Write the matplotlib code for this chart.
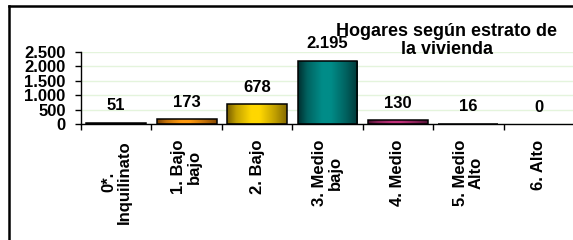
import matplotlib
matplotlib.use("Agg")
import matplotlib.pyplot as plt
import numpy as np
from matplotlib.lines import Line2D
from matplotlib.colors import to_rgb

categories = ["0*.\nInquilinato", "1. Bajo\nbajo", "2. Bajo", "3. Medio\nbajo",
              "4. Medio", "5. Medio\nAlto", "6. Alto"]
values = [51, 173, 678, 2195, 130, 16, 0]
bright_colors = ["#3a3a3a", "#FF9A10", "#FFD700", "#008C88", "#C0307A", "#3a3a3a", "#3a3a3a"]
dark_colors = ["#000000", "#7A4000", "#7A6000", "#003030", "#4A1030", "#000000", "#000000"]
yticks = [0, 500, 1000, 1500, 2000, 2500]
title = "Hogares según estrato de\nla vivienda"

def fmt(v):
    return f"{v:,}".replace(",", ".")

plt.rcParams['font.family'] = ['Liberation Sans', 'DejaVu Sans']
plt.rcParams['font.weight'] = 'bold'

W, H = 573, 240
fig = plt.figure(figsize=(W / 100, H / 100), dpi=100)
fig.patch.set_facecolor('white')

left_px, right_px, top_px, bottom_px = 81, 574, 52, 124
ax = fig.add_axes([left_px / W, 1 - bottom_px / H, (right_px - left_px) / W, (bottom_px - top_px) / H])

x = np.arange(len(categories))
bars = ax.bar(x, values, width=0.85, facecolor='none', edgecolor='black', linewidth=1.1, zorder=3)

# gradient fill for each bar
t = np.linspace(0, 1, 64)
prof = np.interp(t, [0, 0.15, 0.4, 0.55, 0.8, 1.0], [0.0, 0.55, 1.0, 1.0, 0.55, 0.1])
for rect, bc, dc in zip(bars, bright_colors, dark_colors):
    h = rect.get_height()
    if h <= 0:
        rect.set_edgecolor('none')
        continue
    b = np.array(to_rgb(bc)); d = np.array(to_rgb(dc))
    grad = d[None, :] * (1 - prof[:, None]) + b[None, :] * prof[:, None]
    img = ax.imshow(grad[None, :, :], extent=[rect.get_x(), rect.get_x() + rect.get_width(), 0, h],
                    aspect='auto', zorder=2, interpolation='bilinear')
    img.set_clip_path(rect)

for rect, v in zip(bars, values):
    ax.annotate(fmt(v), (rect.get_x() + rect.get_width() / 2, rect.get_height()),
                xytext=(0, 9), textcoords='offset points', ha='center', va='baseline',
                fontsize=12, fontweight='bold', zorder=5)

ax.set_xlim(-0.5, len(categories) - 0.5)
ax.set_ylim(0, 2500)
ax.set_yticks(yticks)
ax.set_yticklabels([fmt(v) for v in yticks], fontsize=12, fontweight='bold')
ax.yaxis.grid(True, color='#E4F4DC', linewidth=1, zorder=0)
ax.set_axisbelow(True)

ax.set_xticks(x)
ax.set_xticklabels(categories, rotation=90, ha='center', va='top', fontsize=12,
                   fontweight='bold', multialignment='center', linespacing=1.05)
ax.set_xticks(np.arange(-0.5, len(categories), 1.0), minor=True)
ax.tick_params(axis='x', which='major', length=0, pad=11.5)
ax.tick_params(axis='x', which='minor', length=4, width=1, direction='out')
ax.tick_params(axis='y', which='major', length=4, width=1, direction='out', pad=7)

for s in ['top', 'right']:
    ax.spines[s].set_visible(False)
ax.spines['left'].set_linewidth(1)
ax.spines['bottom'].set_linewidth(1)

fig.text(447 / W, 1 - 23 / H, title, ha='center', va='top', fontsize=13,
         fontweight='bold', linespacing=1.05)

# outer frame (partially visible)
lw = 1.8
fig.add_artist(Line2D([8.7 / W, 8.7 / W], [0, 1 - 6.3 / H], transform=fig.transFigure,
                      color='black', linewidth=lw, solid_capstyle='projecting'))
fig.add_artist(Line2D([8.7 / W, 1.0], [1 - 6.3 / H, 1 - 6.3 / H], transform=fig.transFigure,
                      color='black', linewidth=lw, solid_capstyle='projecting'))

fig.savefig("out.png", dpi=100)
